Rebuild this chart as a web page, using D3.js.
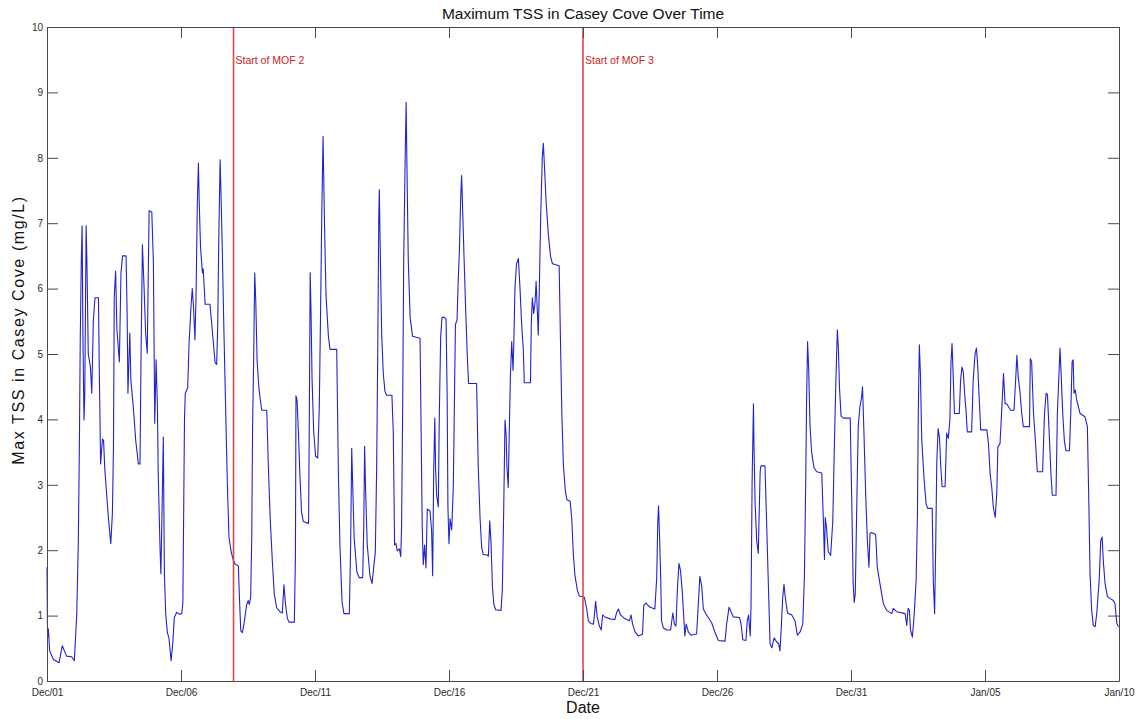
<!DOCTYPE html>
<html>
<head>
<meta charset="utf-8">
<script src="https://cdn.jsdelivr.net/npm/d3@7"></script>
<style>
  html, body { margin: 0; padding: 0; background: #ffffff; }
  svg { display: block; font-family: "Liberation Sans", Arial, Helvetica, sans-serif; }
</style>
</head>
<body>
<svg id="chart" width="1136" height="719"></svg>
<script>
// Record start: midnight, 1 December
const startDate = new Date(2011, 11, 1);

// Sample times, in days after the record start
const dayOffsets = [
  0, 0.02, 0.05, 0.1, 0.24, 0.45, 0.57, 0.73, 0.92, 1.02,
  1.11, 1.17, 1.21, 1.24, 1.28, 1.31, 1.34, 1.38, 1.41, 1.46,
  1.49, 1.54, 1.62, 1.67, 1.73, 1.79, 1.92, 1.95, 2.0, 2.07,
  2.11, 2.16, 2.29, 2.38, 2.44, 2.48, 2.51, 2.56, 2.61, 2.7,
  2.76, 2.82, 2.95, 2.99, 3.02, 3.09, 3.13, 3.22, 3.31, 3.41,
  3.47, 3.51, 3.56, 3.62, 3.68, 3.74, 3.81, 3.91, 3.97, 4.02,
  4.07, 4.12, 4.15, 4.22, 4.25, 4.3, 4.34, 4.38, 4.43, 4.49,
  4.55, 4.63, 4.69, 4.75, 4.84, 4.94, 5.03, 5.07, 5.1, 5.13,
  5.16, 5.25, 5.3, 5.37, 5.42, 5.47, 5.52, 5.56, 5.61, 5.65,
  5.68, 5.73, 5.8, 5.83, 5.9, 6.08, 6.14, 6.21, 6.27, 6.33,
  6.37, 6.41, 6.46, 6.49, 6.54, 6.6, 6.67, 6.73, 6.79, 6.87,
  6.95, 7.02, 7.14, 7.18, 7.23, 7.29, 7.36, 7.45, 7.51, 7.55,
  7.6, 7.64, 7.67, 7.71, 7.75, 7.79, 7.84, 7.91, 8.01, 8.2,
  8.26, 8.33, 8.41, 8.48, 8.57, 8.69, 8.78, 8.84, 8.9, 8.97,
  9.03, 9.23, 9.27, 9.29, 9.33, 9.38, 9.44, 9.5, 9.56, 9.76,
  9.79, 9.82, 9.85, 9.89, 9.95, 10.02, 10.1, 10.16, 10.21, 10.25,
  10.3, 10.35, 10.41, 10.5, 10.56, 10.81, 10.87, 10.93, 11.01, 11.08,
  11.28, 11.33, 11.37, 11.41, 11.46, 11.56, 11.65, 11.78, 11.82, 11.85,
  11.89, 11.95, 12.05, 12.13, 12.2, 12.25, 12.3, 12.34, 12.38, 12.4,
  12.44, 12.49, 12.55, 12.61, 12.67, 12.87, 12.92, 12.97, 13.02, 13.07,
  13.15, 13.2, 13.23, 13.27, 13.31, 13.36, 13.4, 13.43, 13.48, 13.55,
  13.64, 13.92, 13.96, 14.0, 14.04, 14.09, 14.14, 14.19, 14.29, 14.35,
  14.39, 14.43, 14.47, 14.5, 14.54, 14.6, 14.64, 14.69, 14.74, 14.83,
  14.89, 14.93, 14.96, 15.0, 15.04, 15.1, 15.16, 15.2, 15.24, 15.3,
  15.34, 15.39, 15.43, 15.47, 15.51, 15.56, 15.62, 15.68, 15.73, 16.03,
  16.09, 16.16, 16.22, 16.28, 16.41, 16.47, 16.52, 16.57, 16.62, 16.67,
  16.74, 16.94, 16.99, 17.04, 17.09, 17.13, 17.16, 17.21, 17.25, 17.29,
  17.34, 17.39, 17.42, 17.46, 17.52, 17.59, 17.65, 17.71, 17.77, 17.81,
  18.04, 18.07, 18.11, 18.16, 18.21, 18.25, 18.3, 18.33, 18.37, 18.42,
  18.48, 18.52, 18.56, 18.62, 18.71, 18.79, 18.86, 19.11, 19.16, 19.21,
  19.27, 19.34, 19.4, 19.52, 19.58, 19.64, 19.7, 19.79, 19.86, 20.05,
  20.14, 20.2, 20.29, 20.39, 20.42, 20.47, 20.53, 20.61, 20.68, 20.73,
  20.82, 21.01, 21.19, 21.25, 21.32, 21.4, 21.57, 21.73, 21.79, 21.85,
  21.94, 22.06, 22.22, 22.27, 22.35, 22.49, 22.68, 22.75, 22.79, 22.82,
  22.86, 22.9, 22.93, 23.0, 23.12, 23.27, 23.35, 23.41, 23.47, 23.52,
  23.58, 23.64, 23.7, 23.76, 23.8, 23.85, 23.93, 24.03, 24.24, 24.3,
  24.36, 24.43, 24.49, 24.61, 24.8, 24.92, 25.05, 25.3, 25.36, 25.45,
  25.51, 25.61, 25.84, 25.9, 25.96, 26.08, 26.13, 26.18, 26.21, 26.24,
  26.27, 26.31, 26.36, 26.38, 26.42, 26.48, 26.54, 26.61, 26.64, 26.79,
  26.85, 26.91, 26.98, 27.05, 27.13, 27.22, 27.3, 27.35, 27.39, 27.45,
  27.5, 27.55, 27.63, 27.79, 27.91, 28.0, 28.1, 28.2, 28.26, 28.31,
  28.34, 28.38, 28.42, 28.47, 28.53, 28.62, 28.72, 28.91, 28.97, 29.01,
  29.04, 29.09, 29.15, 29.24, 29.32, 29.38, 29.43, 29.49, 29.53, 29.57,
  29.63, 29.72, 29.97, 30.03, 30.08, 30.12, 30.16, 30.21, 30.27, 30.33,
  30.4, 30.43, 30.48, 30.55, 30.61, 30.67, 30.71, 30.77, 30.92, 30.98,
  31.08, 31.21, 31.33, 31.52, 31.58, 31.7, 32.02, 32.08, 32.13, 32.18,
  32.22, 32.29, 32.36, 32.43, 32.48, 32.51, 32.55, 32.59, 32.64, 32.73,
  32.8, 32.86, 33.03, 33.07, 33.12, 33.16, 33.2, 33.25, 33.3, 33.35,
  33.4, 33.51, 33.57, 33.63, 33.69, 33.73, 33.77, 33.81, 33.86, 34.04,
  34.09, 34.14, 34.19, 34.24, 34.29, 34.34, 34.5, 34.56, 34.63, 34.68,
  34.73, 34.78, 34.84, 35.07, 35.13, 35.19, 35.25, 35.31, 35.38, 35.44,
  35.48, 35.56, 35.63, 35.69, 35.75, 35.81, 35.91, 35.96, 36.08, 36.13,
  36.19, 36.24, 36.31, 36.37, 36.43, 36.66, 36.69, 36.74, 36.81, 36.88,
  36.95, 37.15, 37.22, 37.28, 37.33, 37.39, 37.46, 37.51, 37.65, 37.7,
  37.76, 37.8, 37.84, 37.9, 37.96, 38.02, 38.15, 38.2, 38.25, 38.29,
  38.32, 38.37, 38.42, 38.55, 38.73, 38.82, 38.87, 38.92, 38.98, 39.04,
  39.11, 39.17, 39.26, 39.32, 39.37, 39.42, 39.48, 39.57, 39.67, 39.79,
  39.85, 39.92, 39.98
];

// Maximum TSS (mg/L) at each sample time
const maxTss = [
  1.74, 0.66, 0.8, 0.46, 0.33, 0.28, 0.54, 0.38, 0.37, 0.31,
  1.02, 2.15, 3.68, 5.2, 6.45, 6.96, 5.3, 3.99, 4.4, 6.96,
  6.4, 5.0, 4.8, 4.4, 5.52, 5.86, 5.86, 4.8, 3.32, 3.7,
  3.68, 3.22, 2.5, 2.1, 2.56, 3.58, 5.88, 6.27, 5.37, 4.88,
  6.24, 6.5, 6.5, 5.63, 4.4, 5.32, 4.6, 4.19, 3.68, 3.32,
  3.32, 5.01, 6.67, 6.04, 5.32, 5.01, 7.19, 7.17, 6.4, 3.94,
  4.91, 4.19, 3.17, 1.99, 1.64, 2.76, 3.73, 1.64, 1.02, 0.74,
  0.66, 0.31, 0.56, 0.97, 1.05, 1.02, 1.03, 1.2, 2.6, 4.0,
  4.4, 4.48, 5.16, 5.7, 6.0, 5.7, 5.22, 5.87, 7.32, 7.92,
  7.32, 6.62, 6.24, 6.3, 5.76, 5.76, 5.49, 5.16, 4.87, 4.84,
  5.43, 6.78, 7.97, 7.49, 6.62, 5.38, 4.09, 3.0, 2.2, 1.98,
  1.85, 1.79, 1.76, 1.28, 0.77, 0.74, 0.9, 1.17, 1.23, 1.17,
  1.28, 2.2, 3.82, 4.89, 6.24, 5.81, 4.89, 4.46, 4.14, 4.14,
  3.28, 2.47, 1.82, 1.33, 1.12, 1.06, 1.04, 1.47, 1.17, 0.96,
  0.9, 0.9, 1.93, 4.36, 4.3, 3.82, 3.11, 2.57, 2.44, 2.41,
  4.09, 6.24, 5.7, 4.62, 3.82, 3.44, 3.41, 4.19, 5.7, 7.05,
  8.33, 7.1, 5.9, 5.27, 5.07, 5.07, 3.24, 2.08, 1.2, 1.03,
  1.03, 2.08, 3.56, 2.95, 2.19, 1.67, 1.58, 1.58, 2.37, 3.59,
  2.89, 2.08, 1.61, 1.49, 1.78, 1.96, 3.24, 4.98, 7.13, 7.51,
  6.44, 5.27, 4.69, 4.43, 4.37, 4.37, 3.82, 2.08, 2.1, 1.99,
  2.02, 1.9, 2.37, 4.11, 6.44, 7.89, 8.85, 7.89, 6.44, 5.56,
  5.27, 5.24, 3.82, 2.37, 1.78, 2.08, 1.73, 2.63, 2.6, 2.31,
  1.61, 3.24, 4.02, 3.24, 2.83, 2.66, 4.11, 5.27, 5.56, 5.56,
  5.53, 4.4, 2.66, 2.1, 2.48, 2.31, 2.95, 4.2, 5.45, 5.52,
  6.07, 6.6, 7.3, 7.73, 7.2, 6.5, 5.7, 5.0, 4.55, 4.55,
  3.29, 2.48, 2.04, 1.93, 1.93, 1.91, 2.45, 2.1, 1.45, 1.18,
  1.09, 1.08, 1.39, 2.58, 3.99, 3.78, 3.29, 2.96, 3.83, 4.64,
  5.19, 4.75, 5.19, 6.0, 6.38, 6.46, 6.0, 5.46, 5.08, 4.56,
  4.56, 5.46, 5.86, 5.62, 5.78, 6.11, 5.62, 5.29, 6.0, 7.08,
  8.0, 8.22, 7.89, 7.35, 6.81, 6.49, 6.38, 6.35, 5.19, 4.1,
  3.29, 2.91, 2.77, 2.75, 2.48, 1.93, 1.61, 1.39, 1.3, 1.28,
  1.1, 0.92, 0.88, 0.87, 0.98, 1.22, 0.98, 0.84, 0.78, 1.01,
  0.98, 0.95, 0.94, 1.04, 1.1, 1.01, 0.95, 0.92, 1.01, 0.87,
  0.75, 0.69, 0.71, 1.16, 1.19, 1.13, 1.1, 1.57, 2.44, 2.68,
  2.15, 1.57, 0.92, 0.81, 0.78, 0.78, 1.04, 0.87, 0.84, 1.39,
  1.8, 1.68, 1.39, 0.98, 0.69, 0.87, 0.75, 0.7, 0.72, 1.16,
  1.6, 1.45, 1.1, 1.01, 0.89, 0.75, 0.62, 0.61, 0.87, 1.13,
  1.07, 0.98, 0.97, 0.87, 0.63, 0.62, 0.92, 1.01, 0.84, 0.69,
  1.16, 3.03, 4.24, 3.61, 2.74, 2.15, 1.95, 3.2, 3.29, 3.29,
  2.44, 1.57, 0.57, 0.51, 0.66, 0.6, 0.57, 0.46, 0.75, 1.27,
  1.48, 1.27, 1.04, 1.01, 0.92, 0.7, 0.75, 0.87, 1.57, 3.03,
  4.2, 5.19, 4.78, 3.91, 3.5, 3.26, 3.2, 3.18, 2.44, 1.86,
  2.5, 2.33, 1.98, 1.92, 2.44, 3.61, 4.49, 5.37, 5.08, 4.49,
  4.05, 4.02, 4.02, 2.7, 1.5, 1.2, 1.34, 2.56, 3.89, 4.19,
  4.35, 4.5, 3.84, 2.82, 2.15, 1.74, 2.26, 2.27, 2.24, 1.74,
  1.49, 1.18, 1.08, 1.03, 1.11, 1.06, 1.03, 0.85, 1.11, 1.08,
  0.78, 0.67, 1.03, 1.54, 2.56, 4.09, 5.14, 4.7, 3.68, 3.07,
  2.71, 2.64, 2.64, 1.54, 1.03, 2.05, 3.33, 3.86, 3.73, 3.28,
  2.97, 2.97, 3.79, 3.71, 3.99, 4.86, 5.16, 4.7, 4.09, 4.09,
  4.6, 4.8, 4.73, 4.4, 4.14, 3.81, 3.81, 4.6, 5.01, 5.09,
  4.81, 4.35, 3.84, 3.84, 3.63, 3.17, 2.97, 2.66, 2.5, 2.87,
  3.58, 3.63, 4.19, 4.7, 4.24, 4.24, 4.17, 4.14, 4.14, 4.5,
  4.98, 4.65, 4.4, 4.09, 3.89, 3.89, 4.93, 4.88, 4.09, 3.68,
  3.2, 3.2, 4.09, 4.4, 4.38, 3.84, 3.17, 2.84, 2.84, 4.09,
  4.7, 5.09, 4.7, 4.09, 3.68, 3.52, 3.52, 4.09, 4.88, 4.91,
  4.4, 4.45, 4.3, 4.09, 4.04, 3.89, 2.82, 1.64, 1.08, 0.85,
  0.83, 1.03, 1.54, 2.15, 2.2, 1.8, 1.49, 1.29, 1.26, 1.23,
  1.18, 0.88, 0.83
];

// Axis ticks
const xTickDays = [0, 5, 10, 15, 20, 25, 30, 35, 40];
const yTickValues = [0, 1, 2, 3, 4, 5, 6, 7, 8, 9, 10];

// Operational events marked on the plot
const eventDays = [6.96, 20.0];
const eventLabels = ["Start of MOF 2", "Start of MOF 3"];

const titleText = "Maximum TSS in Casey Cove Over Time";
const xLabelText = "Date";
const yLabelText = "Max TSS in Casey Cove (mg/L)";

// ---- layout ----
const W = 1136, H = 719;
const margin = { top: 27, right: 17, bottom: 38, left: 47 };
const plotW = W - margin.left - margin.right;
const plotH = H - margin.top - margin.bottom;
const tickLen = 11;

const dayToDate = d => new Date(startDate.getTime() + d * 864e5);

const x = d3.scaleTime()
  .domain([dayToDate(0), dayToDate(40)])
  .range([0, plotW]);
const y = d3.scaleLinear()
  .domain([0, 10])
  .range([plotH, 0]);

const svg = d3.select("#chart");
const g = svg.append("g").attr("transform", `translate(${margin.left},${margin.top})`);

const fmt = d3.timeFormat("%b/%d");
const xTickDates = xTickDays.map(dayToDate);

// ---- data line ----
const points = dayOffsets.map((d, i) => ({ t: dayToDate(d), v: maxTss[i] }));
const line = d3.line().x(p => x(p.t)).y(p => y(p.v));

g.append("path")
  .datum(points)
  .attr("fill", "none")
  .attr("stroke", "#2222d2")
  .attr("stroke-width", 1.1)
  .attr("stroke-linejoin", "round")
  .attr("d", line);

// ---- event markers ----
eventDays.forEach((d, i) => {
  const ex = x(dayToDate(d));
  g.append("line")
    .attr("x1", ex).attr("x2", ex)
    .attr("y1", 0).attr("y2", plotH)
    .attr("stroke", "#e04848")
    .attr("stroke-width", 1.6);
  g.append("text")
    .attr("x", ex + 2)
    .attr("y", 37)
    .attr("fill", "#cc2222")
    .attr("font-size", 10.5)
    .text(eventLabels[i]);
});

// ---- axes (boxed, ticks pointing inward) ----
const axisColor = "#4a4a4a";
function styleAxis(sel) {
  sel.selectAll("path.domain").attr("stroke", axisColor).attr("stroke-width", 1);
  sel.selectAll(".tick line").attr("stroke", axisColor).attr("stroke-width", 1);
  sel.selectAll(".tick text").attr("fill", "#2a2a2a").attr("font-size", 10);
  sel.attr("font-family", null);
}

g.append("g")
  .attr("transform", `translate(0,${plotH})`)
  .call(d3.axisBottom(x).tickValues(xTickDates).tickFormat(fmt)
    .tickSizeInner(-tickLen).tickSizeOuter(0).tickPadding(7.5))
  .call(styleAxis);

g.append("g")
  .call(d3.axisTop(x).tickValues(xTickDates).tickFormat("")
    .tickSizeInner(-tickLen).tickSizeOuter(0))
  .call(styleAxis);

g.append("g")
  .call(d3.axisLeft(y).tickValues(yTickValues).tickFormat(d3.format("d"))
    .tickSizeInner(-tickLen).tickSizeOuter(0).tickPadding(4))
  .call(styleAxis);

g.append("g")
  .attr("transform", `translate(${plotW},0)`)
  .call(d3.axisRight(y).tickValues(yTickValues).tickFormat("")
    .tickSizeInner(-tickLen).tickSizeOuter(0))
  .call(styleAxis);

// ---- titles ----
svg.append("text")
  .attr("x", margin.left + plotW / 2)
  .attr("y", 19)
  .attr("text-anchor", "middle")
  .attr("font-size", 15.5)
  .attr("fill", "#111")
  .text(titleText);

svg.append("text")
  .attr("x", margin.left + plotW / 2)
  .attr("y", 713)
  .attr("text-anchor", "middle")
  .attr("font-size", 16)
  .attr("fill", "#111")
  .text(xLabelText);

svg.append("text")
  .attr("transform", `translate(24,330) rotate(-90)`)
  .attr("text-anchor", "middle")
  .attr("font-size", 16)
  .attr("letter-spacing", 1.6)
  .attr("fill", "#111")
  .text(yLabelText);
</script>
</body>
</html>
